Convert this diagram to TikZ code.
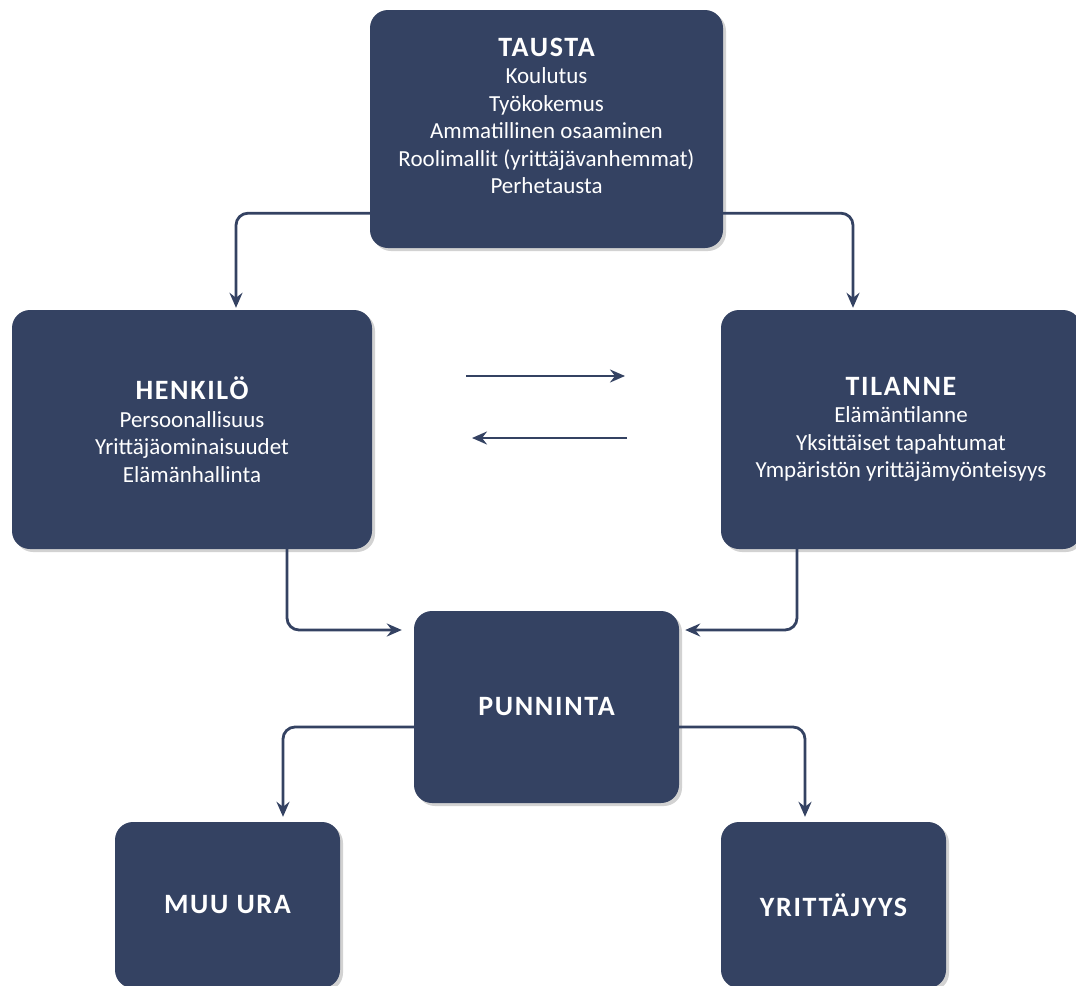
\documentclass[tikz,border=0pt]{standalone}
\usepackage{fontspec}
\setmainfont{Carlito}
\usetikzlibrary{arrows.meta, shadows}
\definecolor{navy}{HTML}{344262}
\newcommand{\hd}[1]{{\fontsize{28}{27}\selectfont\bfseries\addfontfeatures{LetterSpace=6}#1}}
\begin{document}
\begin{tikzpicture}[x=1pt,y=-1pt]

\tikzset{box/.style = {fill=navy, rounded corners=18pt, text=white, align=center, font=\fontsize{23}{27.5}\selectfont, drop shadow={shadow xshift=3pt, shadow yshift=-3pt, fill=black!35, opacity=.5}}}
\tikzset{boxtext/.style = {text=white, align=center, font=\fontsize{23}{27.5}\selectfont}}
\tikzset{edge/.style = {-{Stealth[length=15pt,width=13pt,inset=5pt]}, line width=2.8pt, draw=navy, rounded corners=12pt}}
\useasboundingbox (0,0) rectangle (1076,985);
% vertices
\node[box, minimum width=353pt, minimum height=238pt] (tausta) at (546.5,129) {};
\node[boxtext] (taustatext) at (546.5,116) {\hd{TAUSTA}\\Koulutus\\Työkokemus\\Ammatillinen osaaminen\\Roolimallit (yrittäjävanhemmat)\\Perhetausta};
\node[box, minimum width=360pt, minimum height=239pt] (henkilo) at (192,429.5) {\hd{HENKILÖ}\\Persoonallisuus\\Yrittäjäominaisuudet\\Elämänhallinta};
\node[box, minimum width=360pt, minimum height=239pt] (tilanne) at (901,429.5) {\hd{TILANNE}\\Elämäntilanne\\Yksittäiset tapahtumat\\Ympäristön yrittäjämyönteisyys};
\node[box, minimum width=265pt, minimum height=192pt] (punninta) at (546.5,707) {\hd{PUNNINTA}};
\node[box, minimum width=225pt, minimum height=166pt] (muu) at (227.5,905) {\hd{MUU URA}};
\node[box, minimum width=225pt, minimum height=166pt] (yrittajyys) at (833.5,905) {\hd{YRITTÄJYYS}};
\coordinate (h1) at (466,376);
\coordinate (h2) at (625,376);
\coordinate (h3) at (627,438);
\coordinate (h4) at (472,438);
%edges
\draw[edge, shorten >=2pt] ([yshift=35pt]tausta.south west) -| ([xshift=44pt]henkilo.north);
\draw[edge, shorten >=2pt] ([yshift=35pt]tausta.south east) -| ([xshift=-48pt]tilanne.north);
\draw[edge] (h1) -- (h2);
\draw[edge] (h3) -- (h4);
\draw[edge, shorten >=12pt] ([xshift=95pt]henkilo.south) |- ([yshift=77pt]punninta.west);
\draw[edge, shorten >=6pt] ([xshift=-104pt]tilanne.south) |- ([yshift=77pt]punninta.east);
\draw[edge, shorten >=5pt] ([yshift=-20pt]punninta.west) -| ([xshift=55.5pt]muu.north);
\draw[edge, shorten >=5pt] ([yshift=-20pt]punninta.east) -| ([xshift=-28.5pt]yrittajyys.north);
\end{tikzpicture}
\end{document}
